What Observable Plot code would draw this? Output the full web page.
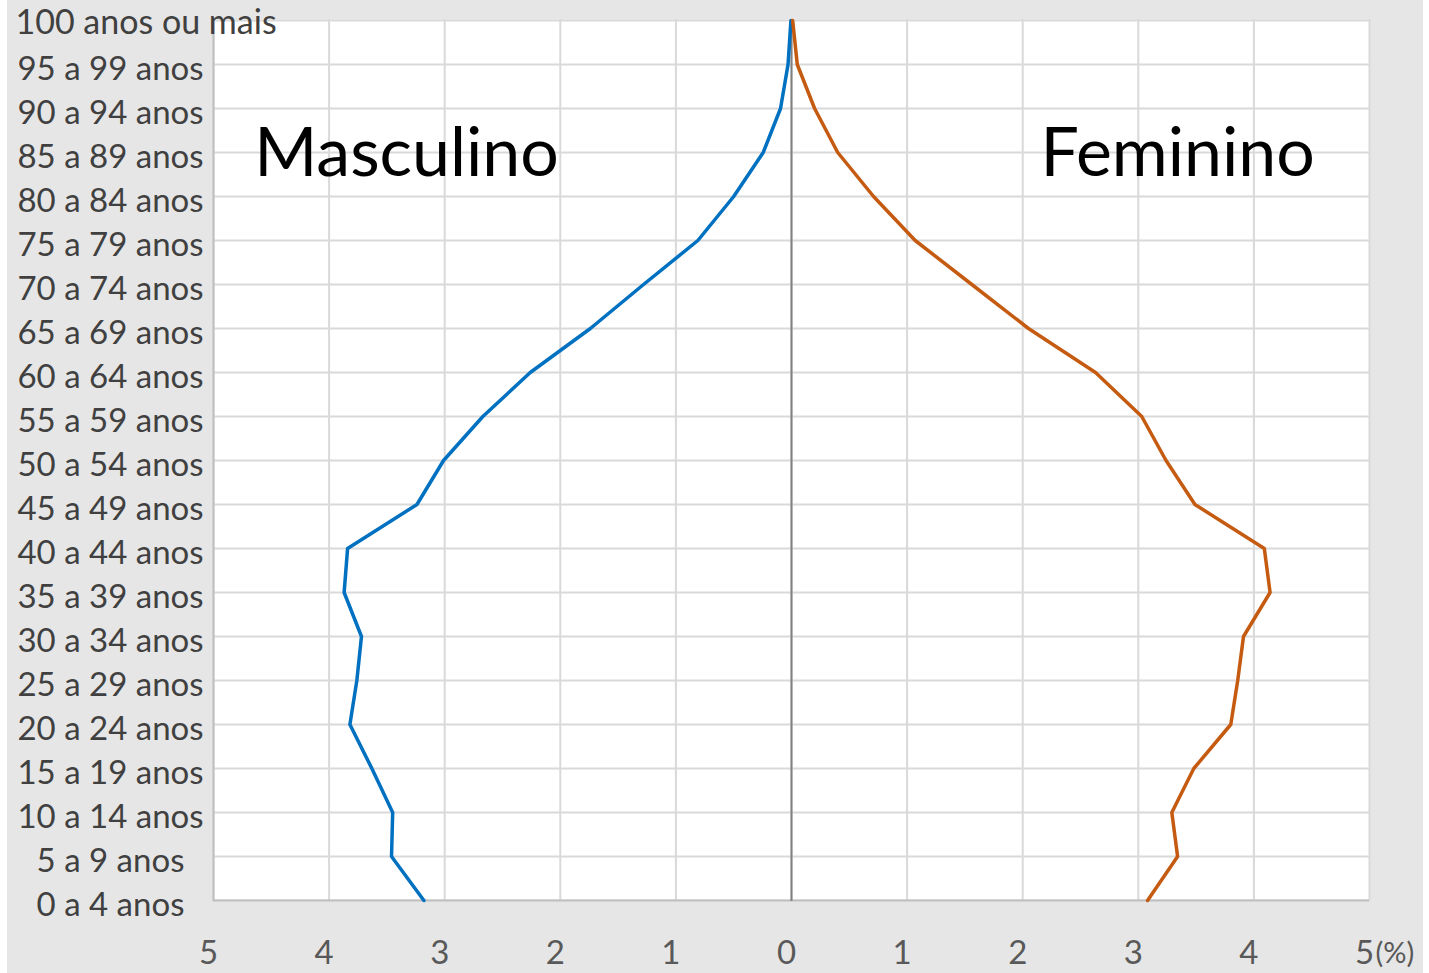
<!DOCTYPE html>
<html>
<head>
<meta charset="utf-8">
<script src="https://cdn.jsdelivr.net/npm/d3@7"></script>
<script src="https://cdn.jsdelivr.net/npm/@observablehq/plot@0.6"></script>
<style>
  html, body { margin: 0; padding: 0; background: #ffffff; }
  #chart { position: absolute; left: 7px; top: 0; }
</style>
</head>
<body>
<div id="chart"></div>
<script>
const ages = [
  "0 a 4 anos", "5 a 9 anos", "10 a 14 anos", "15 a 19 anos", "20 a 24 anos",
  "25 a 29 anos", "30 a 34 anos", "35 a 39 anos", "40 a 44 anos", "45 a 49 anos",
  "50 a 54 anos", "55 a 59 anos", "60 a 64 anos", "65 a 69 anos", "70 a 74 anos",
  "75 a 79 anos", "80 a 84 anos", "85 a 89 anos", "90 a 94 anos", "95 a 99 anos",
  "100 anos ou mais"
];
const masculino = [3.18, 3.46, 3.45, 3.63, 3.82, 3.76, 3.72, 3.87, 3.84, 3.24,
  3.01, 2.67, 2.26, 1.74, 1.28, 0.81, 0.50, 0.245, 0.095, 0.03, 0.005];
const feminino = [3.08, 3.34, 3.29, 3.48, 3.80, 3.86, 3.91, 4.14, 4.09, 3.49,
  3.24, 3.03, 2.63, 2.05, 1.56, 1.07, 0.71, 0.40, 0.20, 0.05, 0.01];
const xTicks = [-5, -4, -3, -2, -1, 0, 1, 2, 3, 4, 5];
const labelPos = [{label: "Masculino", x: -3.33, age: "85 a 89 anos"},
                  {label: "Feminino", x: 3.34, age: "85 a 89 anos"}];
const unitLabel = "(%)";

const rows = ages.map((a, i) => ({age: a, m: -masculino[i], f: feminino[i]}));
const topAge = ages[ages.length - 1];

const plot = Plot.plot({
  width: 1416,
  height: 973,
  marginLeft: 206,
  marginRight: 54,
  marginTop: 19,
  marginBottom: 72,
  style: {background: "#e6e6e6", fontFamily: "Lato, 'Noto Sans', sans-serif"},
  x: {domain: [-5, 5]},
  y: {type: "point", domain: [...ages].reverse(), padding: 0},
  marks: [
    Plot.frame({fill: "white", stroke: "none"}),
    Plot.gridX(xTicks, {stroke: "#d9d9d9", strokeWidth: 2, strokeOpacity: 1}),
    Plot.gridY({stroke: "#d9d9d9", strokeWidth: 2, strokeOpacity: 1}),
    Plot.ruleX([-5], {stroke: "#bfbfbf", strokeWidth: 2}),
    Plot.ruleY([ages[0]], {stroke: "#bfbfbf", strokeWidth: 2}),
    Plot.ruleX([0], {stroke: "#808080", strokeWidth: 2}),
    Plot.line(rows, {x: "m", y: "age", stroke: "#0070c0", strokeWidth: 3.5}),
    Plot.line(rows, {x: "f", y: "age", stroke: "#c55a11", strokeWidth: 3.5}),
    Plot.axisX(xTicks, {
      tickSize: 0, tickPadding: 39, tickFormat: d => Math.abs(d),
      fontSize: 33, fill: "#595959", dx: -5, label: null
    }),
    Plot.text([unitLabel], {
      x: () => 5, frameAnchor: "bottom", dy: 52, dx: 6, textAnchor: "start",
      lineAnchor: "middle", fontSize: 29, fill: "#595959"
    }),
    Plot.axisY(ages.slice(0, -1), {
      tickSize: 0, tickPadding: 103, textAnchor: "middle",
      fontSize: 33, fill: "#404040", dy: 5, label: null
    }),
    Plot.text([topAge], {
      y: d => d, frameAnchor: "left", dx: -198, dy: 3, textAnchor: "start",
      fontSize: 34, fill: "#404040"
    }),
    Plot.text(labelPos, {
      x: "x", y: "age", text: "label", fontSize: 68, fill: "#000000", dy: 2
    })
  ]
});
document.getElementById("chart").appendChild(plot);
</script>
</body>
</html>
